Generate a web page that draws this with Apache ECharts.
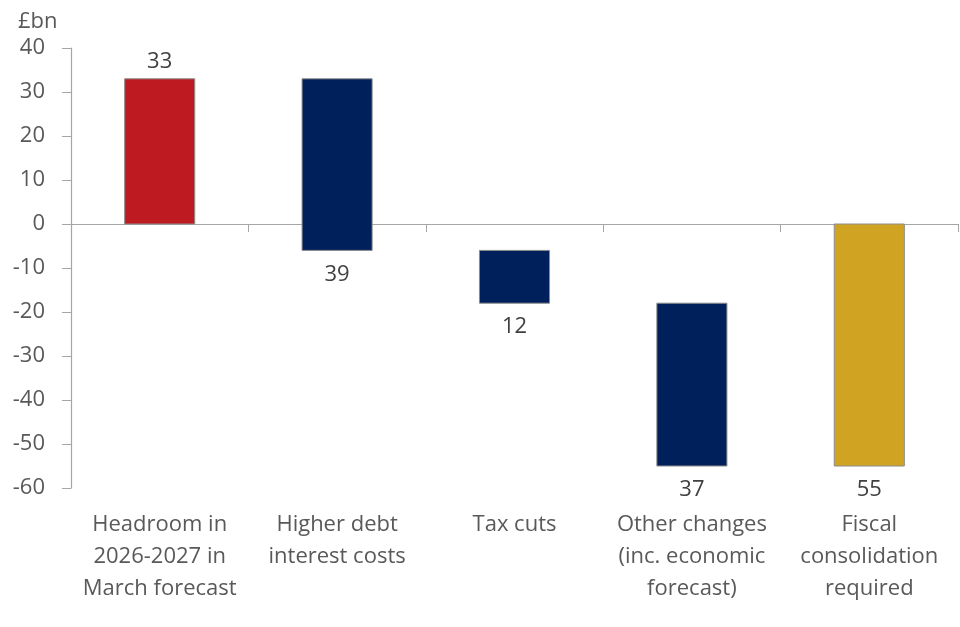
<!DOCTYPE html>
<html lang="en">

<head>
  <meta charset="UTF-8" />
  <title>Fiscal headroom</title>
  <script src="https://cdn.jsdelivr.net/npm/echarts@6/dist/echarts.min.js"></script>
  <style>
    body,
    html {
      margin: 0;
      padding: 0;
      width: 100%;
      height: 100%;
      overflow: hidden;
      background: #fff;
    }

    #chart {
      width: 960px;
      height: 627px;
    }
  </style>
</head>

<body>
  <div id="chart"></div>
</body>
<script>
  // waterfall steps: where each bar starts and ends, and the number shown on it
  var categories = [
    'Headroom in\n2026-2027 in\nMarch forecast',
    'Higher debt\ninterest costs',
    'Tax cuts',
    'Other changes\n(inc. economic\nforecast)',
    'Fiscal\nconsolidation\nrequired'
  ];
  var barStart = [0, 33, -6, -18, 0];
  var barEnd = [33, -6, -18, -55, -55];
  var barLabel = [33, 39, 12, 37, 55];
  var yTicks = { min: -60, max: 40, step: 10 };

  var barColors = ['#bd1a22', '#00205b', '#00205b', '#00205b', '#d1a322'];
  var textColor = '#595959';
  var font = '"Open Sans", "Noto Sans", sans-serif';

  function renderStep(params, api) {
    var i = api.value(0);
    var top = api.coord([i, Math.max(api.value(1), api.value(2))]);
    var bottom = api.coord([i, Math.min(api.value(1), api.value(2))]);
    var w = api.size([1, 0])[0] * 0.395;
    var up = api.value(2) > api.value(1);
    var textY = up ? top[1] - 6 : bottom[1] + 13;
    return {
      type: 'group',
      children: [{
        type: 'rect',
        shape: { x: top[0] - w / 2, y: top[1], width: w, height: bottom[1] - top[1] },
        style: { fill: barColors[params.dataIndex], stroke: '#8c8c8c', lineWidth: 1 }
      }, {
        type: 'text',
        style: {
          x: top[0],
          y: textY,
          text: String(api.value(3)),
          fill: '#404040',
          font: '22px ' + font,
          align: 'center',
          verticalAlign: up ? 'bottom' : 'top'
        }
      }]
    };
  }

  var chart = echarts.init(document.getElementById('chart'));

  var option = {
    backgroundColor: '#ffffff',
    animation: false,
    title: {
      text: '£bn',
      left: 13,
      top: 6,
      textStyle: { color: textColor, fontFamily: font, fontSize: 22, fontWeight: 'normal' }
    },
    grid: { left: 71, right: 2, top: 48, bottom: 139, containLabel: false },
    xAxis: [{
      type: 'category',
      data: categories,
      axisLine: { onZero: true, lineStyle: { color: '#a6a6a6', width: 1.2 } },
      axisTick: { show: true, length: 8, lineStyle: { color: '#a6a6a6' } },
      axisLabel: { show: false }
    }, {
      type: 'category',
      data: categories,
      position: 'bottom',
      axisLine: { show: false },
      axisTick: { show: false },
      axisLabel: {
        margin: 21,
        interval: 0,
        color: textColor,
        fontFamily: font,
        fontSize: 22,
        lineHeight: 32
      }
    }],
    yAxis: {
      type: 'value',
      min: yTicks.min,
      max: yTicks.max,
      interval: yTicks.step,
      splitLine: { show: false },
      axisLine: { show: true, lineStyle: { color: '#a6a6a6', width: 1.2 } },
      axisTick: { show: true, length: 9, lineStyle: { color: '#a6a6a6' } },
      axisLabel: { margin: 26, color: textColor, fontFamily: font, fontSize: 22 }
    },
    series: [{
      type: 'custom',
      xAxisIndex: 0,
      renderItem: renderStep,
      encode: { x: 0, y: [1, 2] },
      data: categories.map(function (c, i) {
        return [i, barStart[i], barEnd[i], barLabel[i]];
      })
    }]
  };

  chart.setOption(option);
</script>

</html>
